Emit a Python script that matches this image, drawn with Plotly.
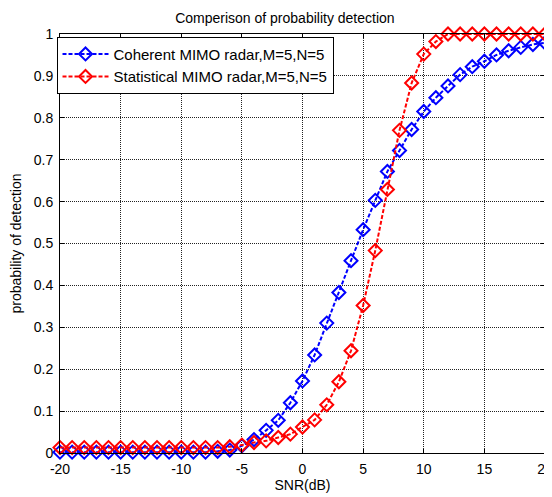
import plotly.graph_objects as go

snr = list(range(-20, 21))
coherent = [0.002]*13 + [0.004, 0.007, 0.017, 0.032, 0.054, 0.078, 0.12, 0.172, 0.234, 0.31, 0.383, 0.459,
            0.533, 0.603, 0.672, 0.722, 0.772, 0.815, 0.848, 0.876, 0.903, 0.922, 0.935, 0.95, 0.96, 0.968,
            0.975, 0.979]
statistical = [0.013]*14 + [0.015, 0.019, 0.025, 0.029, 0.037, 0.045, 0.062, 0.079, 0.115, 0.17, 0.244,
               0.352, 0.483, 0.629, 0.77, 0.883, 0.952, 0.982, 1.0, 1.0, 1.0, 1.0, 1.0, 1.0, 1.0, 1.0, 1.0]
x_ticks = [-20, -15, -10, -5, 0, 5, 10, 15, 20]
x_tick_text = ["-20", "-15", "-10", "-5", "0", "5", "10", "15", "20"]
y_ticks = [0, 0.1, 0.2, 0.3, 0.4, 0.5, 0.6, 0.7, 0.8, 0.9, 1]
y_tick_text = ["0", "0.1", "0.2", "0.3", "0.4", "0.5", "0.6", "0.7", "0.8", "0.9", "1"]

font = "Liberation Sans, Arial, sans-serif"
fig = go.Figure()
fig.add_trace(go.Scatter(x=snr, y=coherent, mode="lines+markers", name="Coherent MIMO radar,M=5,N=5",
                         line=dict(color="#0000ff", width=2, dash="4px,2px"),
                         marker=dict(symbol="diamond-open", size=10, color="#0000ff", line=dict(width=2)),
                         cliponaxis=False))
fig.add_trace(go.Scatter(x=snr, y=statistical, mode="lines+markers", name="Statistical MIMO radar,M=5,N=5",
                         line=dict(color="#ff0000", width=2, dash="4px,2px"),
                         marker=dict(symbol="diamond-open", size=10, color="#ff0000", line=dict(width=2)),
                         cliponaxis=False))

axis_common = dict(showline=True, linecolor="black", linewidth=1, mirror="ticks", ticks="inside",
                   ticklen=4, tickcolor="black", showgrid=True, gridcolor="#222222", griddash="1px,1px",
                   gridwidth=1, zeroline=False, automargin=False, ticklabeloverflow="allow",
                   tickfont=dict(family=font, size=14, color="black"))
fig.update_xaxes(range=[-20, 20], tickvals=x_ticks, ticktext=x_tick_text, ticklabelstandoff=3,
                 title=dict(text="SNR(dB)", standoff=2, font=dict(family=font, size=14, color="black")),
                 **axis_common)
fig.update_yaxes(range=[0, 1], tickvals=y_ticks, ticktext=y_tick_text, ticklabelstandoff=3,
                 title=dict(text="probability of detection", standoff=8,
                            font=dict(family=font, size=14, color="black")), **axis_common)

fig.update_layout(
    template="none",
    width=544, height=489,
    margin=dict(l=51.5, r=7, t=26, b=44.3),
    paper_bgcolor="white", plot_bgcolor="white",
    title=dict(text="Comperison of probability detection", x=0.509, xanchor="center", y=0.99, yanchor="top",
               font=dict(family=font, size=14, color="black")),
    legend=dict(x=-0.0072, y=0.9936, xanchor="left", yanchor="top", bgcolor="white", bordercolor="black",
                borderwidth=1, itemwidth=46, font=dict(family=font, size=15, color="black"),
                tracegroupgap=0),
    showlegend=True,
)
fig.write_html("out.html")
